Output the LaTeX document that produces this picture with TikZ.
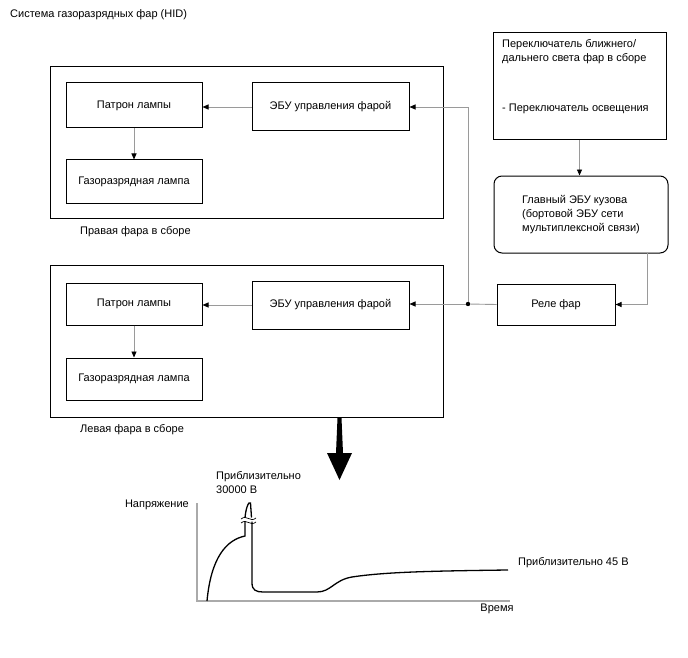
\documentclass[tikz,border=0pt]{standalone}
\usepackage{fontspec}
\setmainfont{Liberation Sans}
\usetikzlibrary{arrows.meta}
\definecolor{wiregray}{HTML}{9A9A9A}
\definecolor{axisgray}{HTML}{AAAAAA}
\begin{document}
\begin{tikzpicture}[x=1pt,y=-1pt,line cap=butt,line join=miter,
  font=\fontsize{11}{14}\selectfont,
  box/.style={draw,line width=1pt,inner sep=0pt},
  unit/.style={draw,line width=1pt,inner sep=0pt},
  wire/.style={draw=wiregray,line width=0.9pt,-{Triangle[length=6pt,width=5pt,color=black]}},
  plainwire/.style={draw=wiregray,line width=0.9pt},
  txt/.style={inner sep=0pt,anchor=west}]
  \useasboundingbox (0,0) rectangle (688,658);
  \node[txt] (title) at (10,15) {Система газоразрядных фар (HID)};
  % right headlamp
  \node[unit,minimum width=393,minimum height=151] (rlamp) at (246.5,142.5) {};
  \node[box,minimum width=136,minimum height=45] (rsock) at (134,105.5) {Патрон лампы};
  \node[box,minimum width=136,minimum height=43] (rbulb) at (134,181.5) {Газоразрядная лампа};
  \node[box,minimum width=157,minimum height=48] (recu) at (330.5,107) {ЭБУ управления фарой};
  \node[txt] (rname) at (80,232) {Правая фара в сборе};
  % left headlamp
  \node[unit,minimum width=393,minimum height=152] (llamp) at (246.5,341) {};
  \node[box,minimum width=136,minimum height=42] (lsock) at (134,304) {Патрон лампы};
  \node[box,minimum width=136,minimum height=42] (lbulb) at (134,379) {Газоразрядная лампа};
  \node[box,minimum width=157,minimum height=48] (lecu) at (330.5,305) {ЭБУ управления фарой};
  \node[txt] (lname) at (80,430) {Левая фара в сборе};
  % switch, body ECU, relay
  \node[box,minimum width=173,minimum height=107] (sw) at (579.5,86.5) {};
  \node[txt] (swa) at (502,45) {Переключатель ближнего/};
  \node[txt] (swb) at (502,59) {дальнего света фар в сборе};
  \node[txt] (swc) at (502,109) {- Переключатель освещения};
  \node[box,rounded corners=8pt,minimum width=174,minimum height=77,align=left] (bcm) at (581,214.5)
    {Главный ЭБУ кузова\\(бортовой ЭБУ сети\\мультиплексной связи)};
  \node[box,minimum width=118,minimum height=41] (relay) at (556,304.5) {Реле фар};
  \coordinate (split) at (468,304);
  \coordinate (bcmout) at (647,253);
  \draw[wire] (sw.south) -- (sw.south |- bcm.north);
  \draw[wire] (bcmout) |- (relay.east);
  \draw[plainwire] (relay.west) -- (split);
  \draw[wire] (split) -- (split -| lecu.east);
  \draw[wire] (split) |- (recu.east);
  \fill (split) circle (2.2pt);
  \draw[wire] (recu.west) -- (recu.west -| rsock.east);
  \draw[wire] (lecu.west) -- (lecu.west -| lsock.east);
  \draw[wire] (rsock.south) -- (rbulb.north);
  \draw[wire] (lsock.south) -- (lbulb.north);
  % big arrow
  \fill (337.5,418) -- (341.5,418) -- (343,453) -- (352,453) -- (339.5,480)
    -- (327,453) -- (336,453) -- cycle;
  % voltage graph
  \coordinate (orig) at (197,601);
  \draw[axisgray,line width=1.5pt] (197,503) -- (orig) -- (510,601);
  \node[inner sep=0pt,anchor=east] (volt) at (189,505) {Напряжение};
  \node[inner sep=0pt] (time) at (497,609) {Время};
  \node[txt,align=left] (peak) at (216,482.5) {Приблизительно\\30000 В};
  \node[txt] (hold) at (518,563) {Приблизительно 45 В};
  \draw[line width=1.3pt] (207,601) .. controls (211,558) and (226,540) .. (245,536) -- (245,521.5);
  \draw[line width=1.3pt] (245,517.5) .. controls (246,508) and (248,504) .. (249,503)
    -- (250.5,503) -- (251.5,517.5);
  \draw[line width=1.3pt] (252,521.5) -- (252,583) .. controls (252,590) and (256,592) .. (263,592)
    -- (317,592) .. controls (331,592) and (334,580) .. (352,577)
    .. controls (385,572) and (430,571) .. (508,570);
  \draw[line width=0.7pt] (241,519) .. controls (244,516.5) and (246,517.5) .. (248.5,518.5)
    .. controls (251,519.5) and (253,520.5) .. (256,518);
  \draw[line width=0.7pt] (241,523) .. controls (244,520.5) and (246,521.5) .. (248.5,522.5)
    .. controls (251,523.5) and (253,524.5) .. (256,522);
\end{tikzpicture}
\end{document}
